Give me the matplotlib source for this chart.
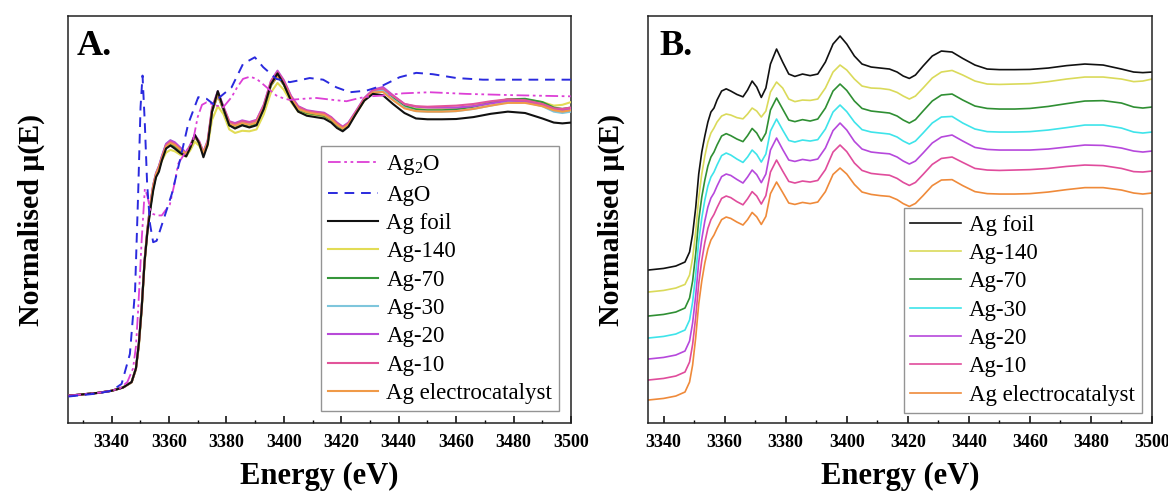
import matplotlib
matplotlib.use("Agg")
import matplotlib.pyplot as plt

plt.rcParams['font.family'] = ['Liberation Serif', 'DejaVu Serif']
plt.rcParams['mathtext.fontset'] = 'custom'
plt.rcParams['mathtext.rm'] = 'Liberation Serif'
plt.rcParams['mathtext.it'] = 'Liberation Serif:italic'

# ---------------------------------------------------------------- data
# Energy grid (eV) shared by the Ag samples
energy = [3325, 3335, 3340, 3344, 3347, 3348.5, 3349.5, 3350.5, 3351.5, 3352.5,
          3353.5, 3354.5, 3355.5, 3356.5, 3357.5, 3359, 3360.5, 3362, 3364, 3366,
          3367.5, 3369, 3370.5, 3372, 3373.5, 3375, 3377, 3379, 3381, 3383,
          3385.5, 3388, 3390.5, 3393, 3395.5, 3397.8, 3400, 3402.5, 3405, 3408,
          3411, 3414, 3416.5, 3418.5, 3420.5, 3422.5, 3425, 3428, 3431, 3434.5,
          3438, 3442, 3446, 3450, 3455, 3460, 3466, 3472, 3478, 3484,
          3490, 3494, 3497, 3500]

ag_foil = [0.000, 0.010, 0.018, 0.030, 0.050, 0.100, 0.190, 0.320, 0.490, 0.600,
           0.680, 0.750, 0.800, 0.820, 0.860, 0.905, 0.916, 0.905, 0.888, 0.876,
           0.910, 0.955, 0.925, 0.873, 0.920, 1.040, 1.115, 1.050, 0.990, 0.978,
           0.990, 0.982, 0.990, 1.050, 1.140, 1.180, 1.140, 1.080, 1.040, 1.025,
           1.020, 1.015, 1.000, 0.980, 0.968, 0.985, 1.030, 1.080, 1.105, 1.100,
           1.068, 1.035, 1.015, 1.012, 1.012, 1.013, 1.020, 1.032, 1.040, 1.035,
           1.015, 1.000, 0.997, 1.000]

ag_140 = [0.000, 0.010, 0.018, 0.030, 0.048, 0.095, 0.180, 0.310, 0.480, 0.600,
          0.690, 0.760, 0.805, 0.830, 0.860, 0.890, 0.900, 0.895, 0.882, 0.876,
          0.900, 0.930, 0.915, 0.885, 0.915, 1.010, 1.060, 1.030, 0.975, 0.962,
          0.970, 0.968, 0.975, 1.030, 1.110, 1.145, 1.120, 1.075, 1.040, 1.030,
          1.028, 1.022, 1.008, 0.990, 0.975, 0.990, 1.030, 1.080, 1.110, 1.118,
          1.095, 1.065, 1.050, 1.048, 1.050, 1.052, 1.062, 1.075, 1.085, 1.085,
          1.075, 1.062, 1.065, 1.075]

ag_70 = [0.000, 0.010, 0.018, 0.030, 0.050, 0.100, 0.185, 0.320, 0.490, 0.605,
         0.690, 0.760, 0.805, 0.830, 0.865, 0.910, 0.922, 0.912, 0.895, 0.882,
         0.912, 0.948, 0.925, 0.885, 0.925, 1.040, 1.100, 1.045, 0.990, 0.982,
         0.992, 0.985, 0.995, 1.050, 1.135, 1.170, 1.138, 1.085, 1.048, 1.035,
         1.030, 1.025, 1.010, 0.990, 0.975, 0.992, 1.035, 1.085, 1.115, 1.120,
         1.090, 1.060, 1.048, 1.045, 1.045, 1.048, 1.058, 1.072, 1.085, 1.087,
         1.075, 1.055, 1.050, 1.055]

ag_30 = [0.000, 0.010, 0.018, 0.030, 0.050, 0.100, 0.190, 0.325, 0.495, 0.610,
         0.700, 0.770, 0.815, 0.840, 0.875, 0.922, 0.935, 0.925, 0.905, 0.888,
         0.915, 0.950, 0.928, 0.890, 0.930, 1.045, 1.105, 1.050, 0.998, 0.990,
         1.000, 0.995, 1.002, 1.055, 1.140, 1.175, 1.142, 1.090, 1.052, 1.040,
         1.035, 1.030, 1.015, 0.995, 0.980, 0.995, 1.035, 1.085, 1.115, 1.118,
         1.085, 1.055, 1.042, 1.040, 1.040, 1.042, 1.050, 1.062, 1.075, 1.075,
         1.060, 1.040, 1.035, 1.040]

ag_20 = [0.000, 0.010, 0.018, 0.030, 0.050, 0.100, 0.190, 0.325, 0.495, 0.610,
         0.700, 0.770, 0.815, 0.840, 0.875, 0.922, 0.935, 0.928, 0.908, 0.890,
         0.920, 0.955, 0.932, 0.892, 0.935, 1.055, 1.115, 1.058, 1.005, 0.998,
         1.008, 1.002, 1.010, 1.065, 1.152, 1.190, 1.155, 1.098, 1.060, 1.045,
         1.040, 1.036, 1.020, 1.000, 0.985, 1.000, 1.040, 1.090, 1.120, 1.130,
         1.100, 1.068, 1.058, 1.055, 1.055, 1.055, 1.060, 1.070, 1.080, 1.078,
         1.065, 1.050, 1.045, 1.050]

ag_10 = [0.000, 0.010, 0.018, 0.030, 0.050, 0.100, 0.188, 0.322, 0.492, 0.608,
         0.698, 0.768, 0.812, 0.838, 0.872, 0.918, 0.930, 0.922, 0.902, 0.886,
         0.916, 0.952, 0.930, 0.890, 0.932, 1.050, 1.110, 1.055, 1.003, 0.995,
         1.005, 1.000, 1.008, 1.062, 1.150, 1.185, 1.152, 1.095, 1.058, 1.043,
         1.038, 1.034, 1.018, 0.998, 0.983, 0.998, 1.038, 1.088, 1.118, 1.125,
         1.098, 1.068, 1.060, 1.058, 1.060, 1.062, 1.068, 1.078, 1.085, 1.082,
         1.068, 1.052, 1.050, 1.055]

ag_electrocatalyst = [0.000, 0.010, 0.018, 0.030, 0.050, 0.100, 0.185, 0.320, 0.490, 0.605,
                      0.695, 0.765, 0.810, 0.835, 0.868, 0.912, 0.925, 0.918, 0.900, 0.885,
                      0.912, 0.948, 0.926, 0.888, 0.928, 1.042, 1.100, 1.048, 0.995, 0.988,
                      0.998, 0.992, 1.000, 1.052, 1.138, 1.170, 1.140, 1.088, 1.050, 1.038,
                      1.032, 1.028, 1.012, 0.992, 0.978, 0.993, 1.032, 1.082, 1.110, 1.112,
                      1.082, 1.052, 1.042, 1.040, 1.040, 1.042, 1.050, 1.062, 1.072, 1.072,
                      1.060, 1.045, 1.040, 1.045]

# Reference oxides
energy_ag2o = [3325, 3335, 3340, 3343, 3345.5, 3347.5, 3348.5, 3349.3, 3350.5, 3351.6,
               3352.5, 3353.5, 3354.5, 3356, 3357.5, 3360.3, 3362, 3363.2, 3365, 3368.4,
               3370, 3371.5, 3373.1, 3375, 3376.6, 3378.9, 3381.8, 3383.8, 3385.8, 3388.2,
               3390.5, 3392.8, 3395, 3397.4, 3400, 3402.1, 3406.7, 3411.4, 3417.1, 3421.8,
               3426.4, 3430, 3434.5, 3441.5, 3450.8, 3463.5, 3481, 3500]
ag2o = [0.000, 0.010, 0.018, 0.028, 0.050, 0.100, 0.180, 0.320, 0.570, 0.757,
        0.730, 0.680, 0.665, 0.660, 0.660, 0.700, 0.780, 0.849, 0.879, 0.934,
        1.020, 1.065, 1.074, 1.068, 1.062, 1.056, 1.093, 1.130, 1.160, 1.168,
        1.160, 1.140, 1.120, 1.099, 1.088, 1.083, 1.087, 1.090, 1.083, 1.078,
        1.090, 1.096, 1.099, 1.107, 1.111, 1.105, 1.100, 1.096]

energy_ago = [3325, 3335, 3340, 3343.5, 3346.4, 3348.2, 3349.3, 3350.1, 3350.8, 3351.6,
              3352.4, 3353.4, 3354.5, 3355.7, 3358, 3361, 3363.8, 3366.7, 3370.2, 3373.1,
              3375.4, 3377.7, 3381.8, 3385.8, 3389.9, 3392.8, 3397.4, 3402.1, 3405.5, 3409,
              3413.7, 3418.3, 3423, 3428.8, 3434.5, 3440.3, 3446.1, 3451.9, 3460.1, 3469.3,
              3481, 3500]
ago = [-0.003, 0.008, 0.018, 0.043, 0.153, 0.385, 0.750, 1.056, 1.172, 0.995,
       0.775, 0.629, 0.562, 0.567, 0.641, 0.739, 0.861, 0.995, 1.093, 1.087,
       1.068, 1.093, 1.129, 1.215, 1.239, 1.203, 1.160, 1.148, 1.155, 1.163,
       1.157, 1.129, 1.111, 1.117, 1.136, 1.166, 1.182, 1.177, 1.163, 1.157,
       1.157, 1.157]

sample_labels = ['Ag foil', 'Ag-140', 'Ag-70', 'Ag-30', 'Ag-20', 'Ag-10',
                 'Ag electrocatalyst']
sample_values = [ag_foil, ag_140, ag_70, ag_30, ag_20, ag_10, ag_electrocatalyst]

# vertical stacking offsets for panel B
stack_offsets = [0.65, 0.54, 0.42, 0.31, 0.205, 0.10, 0.0]

# ---------------------------------------------------------------- styles
colors_a = ['#111111', '#e2dc55', '#35963a', '#7ec6dc', '#b84ad8', '#e2549a', '#f09a48']
colors_b = ['#111111', '#dada5a', '#2f8f33', '#3ee4ea', '#b648dc', '#e04c9c', '#ef8a3a']
ag2o_color = '#dd3fd6'
ago_color = '#2a2ade'

tick_font = dict(family='Liberation Serif', weight='bold', size=13)


def style_axes(ax, xmin, xmax, ymin, ymax):
    ax.set_xticks(range(3340, 3501, 20))
    ax.set_xticks(range(3330, 3501, 10), minor=True)
    ax.set_yticks([])
    ax.set_xlim(xmin, xmax)
    ax.set_ylim(ymin, ymax)
    ax.tick_params(axis='x', which='major', direction='in', length=5, width=1.1,
                   pad=8, top=False)
    ax.tick_params(axis='x', which='minor', direction='in', length=2.5, width=1.0,
                   top=False)
    for lab in ax.get_xticklabels():
        lab.set_fontproperties(tick_font)
        lab.set_fontweight('bold')
    for sp in ax.spines.values():
        sp.set_linewidth(1.1)
        sp.set_color('#222222')
    ax.set_xlabel('Energy (eV)', fontsize=22, fontweight='bold', labelpad=8)
    ax.set_ylabel('Normalised μ(E)', fontsize=21.5, fontweight='bold', labelpad=17)


legend_style = dict(loc='lower right', fontsize=16.5, frameon=True, fancybox=False,
                    edgecolor='#7a7a7a', handlelength=2.2, handletextpad=0.35,
                    labelspacing=0.32, borderpad=0.3)

fig = plt.figure(figsize=(11.68, 4.92), dpi=100)
ax_a = fig.add_axes([0.0586, 0.1402, 0.4303, 0.8272])
ax_b = fig.add_axes([0.5551, 0.1402, 0.4312, 0.8272])

# ---------------------------------------------------------------- panel A
h_ag2o, = ax_a.plot(energy_ag2o, ag2o, color=ag2o_color, lw=1.3,
                    dashes=(7, 2, 1.5, 2, 1.5, 2), label='Ag$_2$O', zorder=4)
h_ago, = ax_a.plot(energy_ago, ago, color=ago_color, lw=1.4,
                   dashes=(5, 3.5), label='AgO', zorder=5)
sample_handles = {}
for i in [1, 2, 3, 4, 5, 6, 0]:
    h, = ax_a.plot(energy, sample_values[i], color=colors_a[i], lw=1.5,
                   label=sample_labels[i], zorder=3.5 if i == 0 else 3)
    sample_handles[i] = h
handles_a = [h_ag2o, h_ago] + [sample_handles[i] for i in range(len(sample_labels))]

style_axes(ax_a, 3325, 3500, -0.10, 1.39)
leg_a = ax_a.legend(handles=handles_a, borderaxespad=0.52, **legend_style)
leg_a.get_frame().set_linewidth(1.0)
ax_a.text(0.017, 0.905, 'A.', transform=ax_a.transAxes, fontsize=26,
          fontweight='bold', va='baseline', ha='left')

# ---------------------------------------------------------------- panel B
handles_b = []
for i, (lab, vals) in enumerate(zip(sample_labels, sample_values)):
    shifted = [v + stack_offsets[i] for v in vals]
    h, = ax_b.plot(energy, shifted, color=colors_b[i], lw=1.2, label=lab)
    handles_b.append(h)

style_axes(ax_b, 3335, 3500, -0.105, 1.93)
leg_b = ax_b.legend(handles=handles_b, borderaxespad=0.45, **legend_style)
leg_b.get_frame().set_linewidth(1.0)
ax_b.text(0.022, 0.905, 'B.', transform=ax_b.transAxes, fontsize=26,
          fontweight='bold', va='baseline', ha='left')

fig.savefig('out.png', dpi=100)
